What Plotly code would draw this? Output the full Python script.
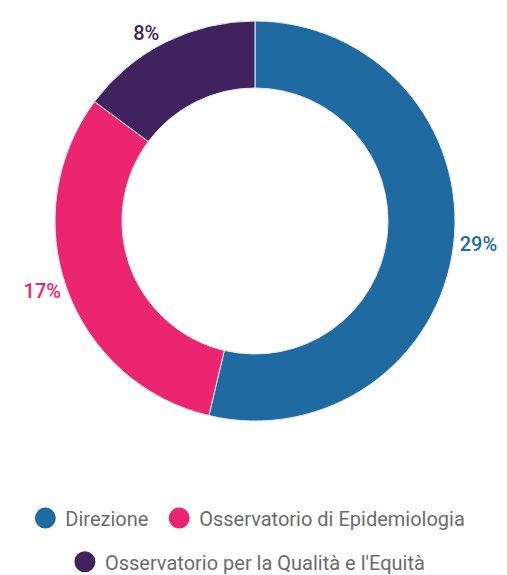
import plotly.graph_objects as go

categories = ["Direzione", "Osservatorio di Epidemiologia", "Osservatorio per la Qualità e l'Equità"]
values = [29, 17, 8]
colors = ["#1f6aa1", "#ec2571", "#40225f"]
legend_groups = ["legend", "legend2", "legend3"]

fig = go.Figure()
fig.add_trace(go.Pie(
    labels=categories,
    values=values,
    hole=0.665,
    sort=False,
    direction="clockwise",
    rotation=0,
    marker=dict(colors=colors, line=dict(color="#e8e8f0", width=1)),
    textposition="outside",
    texttemplate="%{value}%",
    textfont=dict(family="Roboto", size=20, color=colors, weight=500),
    showlegend=False,
    hoverinfo="label+value",
))

for name, col, lg in zip(categories, colors, legend_groups):
    fig.add_trace(go.Scatter(
        x=[None], y=[None], mode="markers", name=name,
        marker=dict(color=col, size=16, symbol="circle", line=dict(color=col, width=5)),
        legend=lg, showlegend=True,
    ))

legend_font = dict(family="Roboto", size=20, color="#6b6b6b")
common = dict(orientation="h", xref="container", yref="container",
              xanchor="left", yanchor="middle", font=legend_font,
              bgcolor="rgba(0,0,0,0)")
fig.update_layout(
    width=507, height=575,
    margin=dict(l=55, r=52, t=21, b=154),
    paper_bgcolor="white", plot_bgcolor="white",
    xaxis=dict(visible=False), yaxis=dict(visible=False),
    legend=dict(x=0.050, y=0.099, **common),
    legend2=dict(x=0.314, y=0.099, **common),
    legend3=dict(x=0.128, y=0.023, **common),
)

fig.write_html("out.html")
